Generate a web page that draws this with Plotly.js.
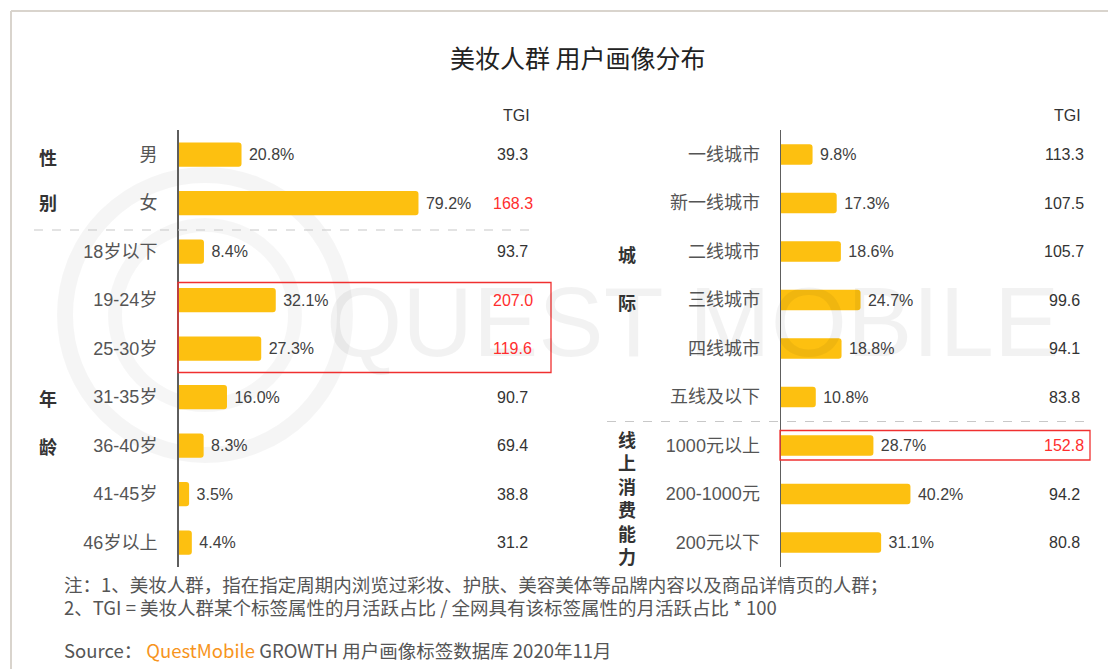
<!DOCTYPE html>
<html><head><meta charset="utf-8">
<script src="https://cdn.plot.ly/plotly-3.0.1.min.js"></script>
<style>html,body{margin:0;padding:0;background:#fff}#chart{width:1108px;height:669px}</style>
</head><body><div id="chart"></div>
<script>
// ---- data ----
const leftCategories = ['男','女','18岁以下','19-24岁','25-30岁','31-35岁','36-40岁','41-45岁','46岁以上'];
const leftShare = [20.8, 79.2, 8.4, 32.1, 27.3, 16.0, 8.3, 3.5, 4.4];
const leftTGI = [39.3, 168.3, 93.7, 207.0, 119.6, 90.7, 69.4, 38.8, 31.2];
const leftTGIHighlight = [false, true, false, true, true, false, false, false, false];

const rightCategories = ['一线城市','新一线城市','二线城市','三线城市','四线城市','五线及以下','1000元以上','200-1000元','200元以下'];
const rightShare = [9.8, 17.3, 18.6, 24.7, 18.8, 10.8, 28.7, 40.2, 31.1];
const rightTGI = [113.3, 107.5, 105.7, 99.6, 94.1, 83.8, 152.8, 94.2, 80.8];
const rightTGIHighlight = [false, false, false, false, false, false, true, false, false];

const groupLabels = [
  {text:'性', side:'L', y:157}, {text:'别', side:'L', y:202},
  {text:'年', side:'L', y:398}, {text:'龄', side:'L', y:446},
  {text:'城', side:'R', y:254}, {text:'际', side:'R', y:302},
  {text:'线<br>上<br>消<br>费<br>能<br>力', side:'R', y:497}
];
const titleText = '美妆人群 用户画像分布';
const note1 = '注：1、美妆人群，指在指定周期内浏览过彩妆、护肤、美容美体等品牌内容以及商品详情页的人群；';
const note2 = '2、TGI = 美妆人群某个标签属性的月活跃占比 / 全网具有该标签属性的月活跃占比 * 100';
const sourceText = 'Source： <span style="color:#F7941D">QuestMobile</span> GROWTH 用户画像标签数据库 2020年11月';

// ---- layout helpers ----
const W = 1108, H = 669;
const px = x => x / W;
const py = y => 1 - y / H;
const CJK = 'Noto Sans CJK SC';
const LBL = 'Liberation Sans, Arial, Noto Sans CJK SC';
const BAR = '#FDC010';
const RED = '#FF2E2E';

const barTrace = (cats, vals, xa, ya, width) => ({
  type:'bar', orientation:'h', x: vals, y: cats, xaxis: xa, yaxis: ya,
  width: width, marker:{color: BAR, cornerradius: 3, line:{width:0}},
  texttemplate:'\u00a0%{x:.1f}%', textposition:'outside', cliponaxis:false,
  textfont:{family: LBL, size:16, color:'#404040'}, constraintext:'none',
  hoverinfo:'skip', showlegend:false
});

const data = [
  barTrace(leftCategories, leftShare, 'x', 'y', 0.5),
  barTrace(rightCategories, rightShare, 'x2', 'y2', 0.42)
];

const yDomain = [py(566.75), py(130.25)];
const yAxisBase = {
  type:'category', range:[8.5, -0.5], domain: yDomain, showline:true,
  linecolor:'#5e5e5e', linewidth:1.5, showgrid:false, zeroline:false,
  ticks:'', ticklabelstandoff:16, tickfont:{family: LBL, size:18, color:'#555'}, fixedrange:true
};

const annotations = [];
// watermark (drawn first, faint)
annotations.push({xref:'paper', yref:'paper', x:px(692), y:py(322), text:'QUEST MOBILE', showarrow:false,
  xanchor:'center', yanchor:'middle', font:{family:'Liberation Sans, Arial', size:98, color:'rgba(0,0,0,0.05)'}});

annotations.push({xref:'paper', yref:'paper', x:px(578), y:py(57), text:titleText, showarrow:false,
  font:{family:CJK, size:25, color:'#222'}, xanchor:'center', yanchor:'middle'});
annotations.push({xref:'paper', yref:'paper', x:px(516), y:py(115), text:'TGI', showarrow:false,
  font:{family:LBL, size:16, color:'#333'}, xanchor:'center', yanchor:'middle'});
annotations.push({xref:'paper', yref:'paper', x:px(1067), y:py(115), text:'TGI', showarrow:false,
  font:{family:LBL, size:16, color:'#333'}, xanchor:'center', yanchor:'middle'});

leftTGI.forEach((v, i) => annotations.push({xref:'paper', yref:'y', x:px(512.5), y:leftCategories[i],
  text: v.toFixed(1), showarrow:false, xanchor:'center', yanchor:'middle',
  font:{family:LBL, size:16, color: leftTGIHighlight[i] ? RED : '#333'}}));
rightTGI.forEach((v, i) => annotations.push({xref:'paper', yref:'y2', x:px(1064), y:rightCategories[i],
  text: v.toFixed(1), showarrow:false, xanchor:'center', yanchor:'middle',
  font:{family:LBL, size:16, color: rightTGIHighlight[i] ? RED : '#333'}}));

groupLabels.forEach(g => annotations.push({xref:'paper', yref:'paper', x:px(g.side === 'L' ? 48 : 627), y:py(g.y),
  text:'<b>' + g.text + '</b>', showarrow:false, xanchor:'center', yanchor:'middle',
  font:{family:CJK, size:18, color:'#333'}}));

annotations.push({xref:'paper', yref:'paper', x:px(62), y:py(584), text:note1, showarrow:false,
  xanchor:'left', yanchor:'middle', font:{family:CJK, size:18.5, color:'#555'}});
annotations.push({xref:'paper', yref:'paper', x:px(62), y:py(607), text:note2, showarrow:false,
  xanchor:'left', yanchor:'middle', font:{family:CJK, size:18.5, color:'#555'}});
annotations.push({xref:'paper', yref:'paper', x:px(62), y:py(650), text:sourceText, showarrow:false,
  xanchor:'left', yanchor:'middle', font:{family:CJK, size:18.5, color:'#555'}});

const shapes = [
  // frame
  {type:'line', xref:'paper', yref:'paper', x0:px(11), x1:px(1108), y0:py(11), y1:py(11), line:{color:'#d9d4cd', width:2}},
  {type:'line', xref:'paper', yref:'paper', x0:px(11), x1:px(11), y0:py(11), y1:py(669), line:{color:'#d9d4cd', width:2}},
  // watermark logo rings
  {type:'circle', xref:'paper', yref:'paper', layer:'below', x0:px(65), x1:px(345), y0:py(175), y1:py(455), line:{color:'rgba(0,0,0,0.04)', width:16}},
  {type:'circle', xref:'paper', yref:'paper', layer:'below', x0:px(115), x1:px(295), y0:py(225), y1:py(405), line:{color:'rgba(0,0,0,0.035)', width:14}},
  // dashed separators
  {type:'line', xref:'paper', yref:'paper', x0:px(34), x1:px(533), y0:py(230), y1:py(230), line:{color:'#c8c8c8', width:1.2, dash:'dash'}},
  {type:'line', xref:'paper', yref:'paper', x0:px(607), x1:px(1090), y0:py(421.5), y1:py(421.5), line:{color:'#c8c8c8', width:1.2, dash:'dash'}},
  // highlight boxes
  {type:'rect', xref:'paper', yref:'paper', x0:px(178), x1:px(551), y0:py(282.5), y1:py(372.5), line:{color:'#F03030', width:1.3}},
  {type:'rect', xref:'paper', yref:'paper', x0:px(780), x1:px(1090), y0:py(430.5), y1:py(460), line:{color:'#F03030', width:1.3}}
];

const layout = {
  width: W, height: H, margin:{l:0, r:0, t:0, b:0},
  paper_bgcolor:'#fff', plot_bgcolor:'rgba(0,0,0,0)', showlegend:false,
  font:{family: CJK},
  xaxis:{domain:[px(178.5), px(481.5)], range:[0,100], visible:false, fixedrange:true, anchor:'y'},
  xaxis2:{domain:[px(781), px(1103)], range:[0,100], visible:false, fixedrange:true, anchor:'y2'},
  yaxis: Object.assign({}, yAxisBase, {anchor:'x'}),
  yaxis2: Object.assign({}, yAxisBase, {anchor:'x2'}),
  bargap: 0.5,
  annotations, shapes
};

Plotly.newPlot('chart', data, layout, {staticPlot:true, displayModeBar:false});
</script>
</body></html>
